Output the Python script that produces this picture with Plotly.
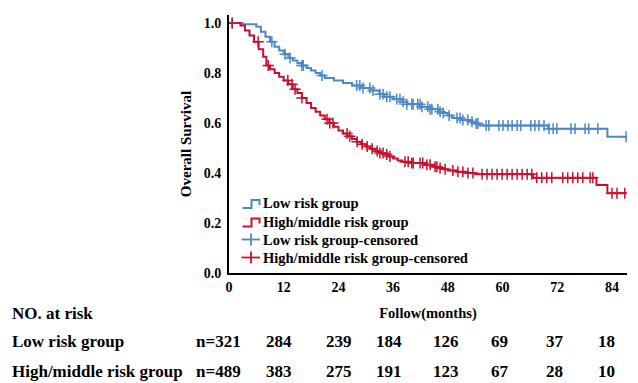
import numpy as np
import plotly.graph_objects as go

# ---- Data ----
low_t = [0, 3, 6, 7, 8, 9, 10, 11, 12, 13, 14, 15, 16, 17, 18, 19, 20, 21, 23, 25, 27, 29, 31, 33, 34,
         36, 38, 39, 42, 44, 46, 47, 48, 49, 51, 53, 54, 55, 70, 83, 87.2]
low_s = [1.0, 0.995, 0.985, 0.965, 0.945, 0.925, 0.905, 0.89, 0.875, 0.86, 0.85, 0.84, 0.83, 0.82, 0.81,
         0.80, 0.79, 0.78, 0.77, 0.76, 0.75, 0.74, 0.73, 0.715, 0.705, 0.695, 0.685, 0.675, 0.665, 0.655,
         0.645, 0.64, 0.63, 0.62, 0.612, 0.605, 0.598, 0.59, 0.577, 0.545, 0.545]

high_t = [0, 2.5, 3.5, 4.5, 5.5, 6.5, 7.5, 8.2, 9, 10, 11, 12, 13, 14, 15, 16, 17, 18, 19, 20, 21, 22, 23,
          24, 25, 26, 27, 28, 29, 30, 31, 32, 33, 34, 35, 36, 37, 38, 40, 43, 45, 46, 47, 48, 50, 52, 54,
          66.7, 80.6, 83, 87.2]
high_s = [1.0, 0.99, 0.97, 0.95, 0.925, 0.895, 0.865, 0.83, 0.815, 0.80, 0.785, 0.77, 0.755, 0.735, 0.72,
          0.70, 0.68, 0.66, 0.645, 0.63, 0.615, 0.60, 0.585, 0.57, 0.558, 0.547, 0.536, 0.525, 0.515, 0.506,
          0.497, 0.488, 0.48, 0.474, 0.466, 0.458, 0.45, 0.445, 0.44, 0.433, 0.425, 0.42, 0.415, 0.41, 0.405,
          0.40, 0.395, 0.381, 0.352, 0.319, 0.319]

low_cens = [0.7, 9.4, 12.3, 13.4, 16.0, 16.3, 20.4, 28.0, 28.7, 29.4, 30.9, 31.6, 33.1, 33.8, 34.6, 35.3,
            36.8, 37.5, 38.2, 39.0, 40.1, 40.4, 41.4, 41.9, 42.3, 43.6, 44.1, 44.5, 45.8, 46.3, 47.0, 48.3,
            50.0, 50.7, 51.3, 52.4, 53.3, 54.2, 54.6, 56.4, 57.0, 59.2, 60.1, 61.2, 62.1, 63.2, 64.0, 66.2,
            67.1, 68.0, 69.1, 70.2, 71.1, 71.9, 75.0, 75.9, 78.1, 78.9, 80.9, 87.1]
high_cens = [0.7, 6.4, 8.6, 12.9, 13.8, 14.5, 16.0, 21.5, 22.1, 22.8, 25.9, 26.5, 28.1, 29.2, 30.3, 31.4,
             32.5, 33.1, 33.8, 34.6, 35.3, 38.6, 39.3, 40.1, 40.4, 41.9, 42.5, 43.4, 44.1, 45.2, 45.6, 46.3,
             47.4, 49.1, 50.2, 51.3, 52.4, 53.5, 55.5, 56.6, 57.7, 58.8, 59.9, 61.0, 62.1, 63.2, 64.3, 65.4,
             66.4, 67.5, 68.6, 69.7, 70.8, 73.2, 74.3, 75.4, 76.5, 77.6, 79.2, 79.8, 84.0, 85.1, 86.8]

x_ticks = [0, 12, 24, 36, 48, 60, 72, 84]
risk_low = ["n=321", "284", "239", "184", "126", "69", "37", "18"]
risk_high = ["n=489", "383", "275", "191", "123", "67", "28", "10"]
risk_x = [11.0, 24.2, 35.2, 47.6, 59.4, 71.5, 82.7]   # month columns (after the n= column)
row_names = ["Low risk group", "High/middle risk group"]
legend_names = ["Low risk group", "High/middle risk group",
                "Low risk group-censored", "High/middle risk group-censored"]

BLUE = "#4A89C8"
RED = "#C8102E"
FONT = "Liberation Serif"

# page-pixel -> paper helpers (plot area: x 229..627, y 15..273 on the page)
PX0, PW, PY0, PH = 229.0, 398.0, 273.0, 258.0


def xp(px):
    return (px - PX0) / PW


def yp(py):
    return (PY0 - py) / PH


def step_at(times, surv, t):
    idx = np.searchsorted(np.array(times), np.array(t), side="right") - 1
    return np.array(surv)[idx]


fig = go.Figure()
fig.add_trace(go.Scatter(x=low_t, y=low_s, mode="lines", line=dict(color=BLUE, width=2, shape="hv"),
                         name=legend_names[0]))
fig.add_trace(go.Scatter(x=high_t, y=high_s, mode="lines", line=dict(color=RED, width=2, shape="hv"),
                         name=legend_names[1]))
fig.add_trace(go.Scatter(x=low_cens, y=step_at(low_t, low_s, low_cens), mode="markers",
                         marker=dict(symbol="cross-thin", size=8, line=dict(color=BLUE, width=1.5)),
                         name=legend_names[2]))
fig.add_trace(go.Scatter(x=high_cens, y=step_at(high_t, high_s, high_cens), mode="markers",
                         marker=dict(symbol="cross-thin", size=8, line=dict(color=RED, width=1.5)),
                         name=legend_names[3]))

bold = lambda s: dict(family=FONT, size=s, color="black", weight="bold")

annotations = [dict(text="NO. at risk", xref="paper", yref="paper", x=xp(10), y=yp(313),
                    xanchor="left", yanchor="middle", showarrow=False, font=bold(17))]
for name, vals, py in [(row_names[0], risk_low, 341), (row_names[1], risk_high, 371)]:
    annotations.append(dict(text=name, xref="paper", yref="paper", x=xp(10), y=yp(py), xanchor="left",
                            yanchor="middle", showarrow=False, font=bold(17)))
    annotations.append(dict(text=vals[0], xref="paper", yref="paper", x=xp(218.5), y=yp(py),
                            xanchor="center", yanchor="middle", showarrow=False, font=bold(17)))
    for xv, v in zip(risk_x, vals[1:]):
        annotations.append(dict(text=v, xref="x", yref="paper", x=xv, y=yp(py), xanchor="center",
                                yanchor="middle", showarrow=False, font=bold(17)))

# custom legend (step glyph for curves, cross glyph for censored marks)
legend_rows = [203, 221.5, 239.5, 257.5]
legend_colors = [BLUE, RED, BLUE, RED]
shapes = []
for i, (name, py, col) in enumerate(zip(legend_names, legend_rows, legend_colors)):
    annotations.append(dict(text=name, xref="paper", yref="paper", x=xp(261), y=yp(py),
                            xanchor="left", yanchor="middle", showarrow=False, font=bold(14.5)))
    if i < 2:
        path = (f"M {xp(242.5)} {yp(py + 5)} L {xp(251.5)} {yp(py + 5)} L {xp(251.5)} {yp(py - 3)} "
                f"L {xp(259.5)} {yp(py - 3)} L {xp(259.5)} {yp(py + 2)}")
        shapes.append(dict(type="path", xref="paper", yref="paper", path=path,
                           line=dict(color=col, width=2)))
    else:
        shapes.append(dict(type="line", xref="paper", yref="paper", x0=xp(241.5), x1=xp(260),
                           y0=yp(py), y1=yp(py), line=dict(color=col, width=1.8)))
        shapes.append(dict(type="line", xref="paper", yref="paper", x0=xp(251), x1=xp(251),
                           y0=yp(py - 6), y1=yp(py + 6), line=dict(color=col, width=1.8)))

fig.update_layout(
    width=630, height=375,
    margin=dict(l=221, r=11, t=7, b=110, autoexpand=False),
    paper_bgcolor="white", plot_bgcolor="white",
    font=dict(family=FONT, color="black"),
    showlegend=False,
    xaxis=dict(range=[0, 87.3], tickvals=x_ticks, ticktext=[str(v) for v in x_ticks],
               showgrid=False, zeroline=False, showline=True, linecolor="black", linewidth=2,
               ticks="", tickfont=bold(14),
               title=dict(text="Follow(months)", standoff=14, font=bold(14.5))),
    yaxis=dict(range=[0, 1.032], tickvals=[0, 0.2, 0.4, 0.6, 0.8, 1.0], tickformat=".1f",
               showgrid=False, zeroline=False, showline=True, linecolor="black", linewidth=2,
               ticks="outside", ticklen=3, tickcolor="rgba(0,0,0,0)", tickfont=bold(14),
               title=dict(text="Overall Survival", standoff=8, font=bold(15))),
    annotations=annotations,
    shapes=shapes,
)

fig.write_html("out.html")
